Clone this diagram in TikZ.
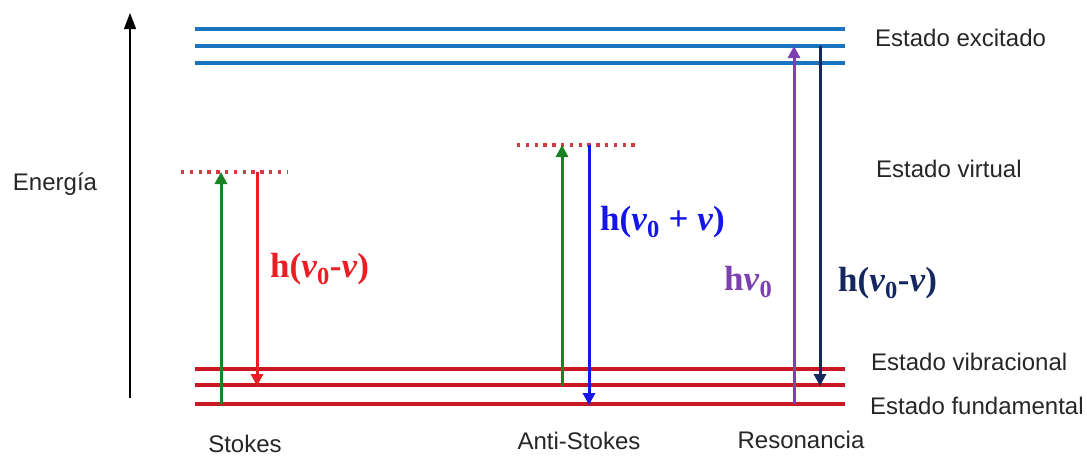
\documentclass[tikz,border=0pt]{standalone}
\usepackage{fontspec}
\setmainfont{Liberation Sans}
\newfontfamily\lblfont{Liberation Serif}
\usetikzlibrary{arrows.meta}
\definecolor{lvlblue}{RGB}{25,115,190}
\definecolor{lvlred}{RGB}{200,25,35}
\definecolor{grn}{RGB}{25,130,35}
\definecolor{redarr}{RGB}{235,30,35}
\definecolor{bluarr}{RGB}{20,20,235}
\definecolor{purp}{RGB}{125,65,175}
\definecolor{navy}{RGB}{20,40,95}
\tikzset{
  level/.style={line width=3.6pt},
  virt/.style={line width=3.4pt, lvlred!85!white, dash pattern=on 3.4pt off 5.4pt},
  trans/.style={line width=3pt, -{Triangle[width=12pt,length=12pt]}},
  txt/.style={inner sep=0pt, font=\fontsize{24}{28}\selectfont, text=black!85},
  eq/.style={inner sep=0pt, font=\lblfont\bfseries\fontsize{35}{38}\selectfont},
}
\newcommand{\nuv}{\textit{ν}}
\begin{document}
\begin{tikzpicture}[x=1pt,y=-1pt]
\useasboundingbox (0,0) rectangle (1087,458);
% energy axis
\coordinate (ebot) at (130,398);
\coordinate (etop) at (130,13);
\draw[line width=1.3pt, -{Triangle[width=12pt,length=16pt]}] (ebot) -- (etop);
\node[txt] (energia) at (55,184) {Energía};
% levels
\foreach \y/\n in {29/e1,46/e2,63/e3}{
  \draw[level, lvlblue] (195,\y) coordinate (\n L) -- (845,\y) coordinate (\n R);
}
\foreach \y/\n in {369/g3,385/g2,404/g1}{
  \draw[level, lvlred] (195,\y) coordinate (\n L) -- (845,\y) coordinate (\n R);
}
% virtual states
\draw[virt] (181,172) coordinate (vsL) -- (288,172) coordinate (vsR);
\draw[virt] (517,145) coordinate (vaL) -- (636,145) coordinate (vaR);
% Stokes
\coordinate (s1b) at (221,404); \coordinate (s1t) at (221,172);
\coordinate (s2t) at (257,172); \coordinate (s2b) at (257,386);
\draw[trans, grn] (s1b) -- (s1t);
\draw[trans, redarr] (s2t) -- (s2b);
\node[eq, text=redarr, anchor=west] (lstokes) at (270,269) {h(\nuv\textsubscript{0}-\nuv)};
% Anti-Stokes
\coordinate (a1b) at (562,386); \coordinate (a1t) at (562,145);
\coordinate (a2t) at (589,145); \coordinate (a2b) at (589,405);
\draw[trans, grn] (a1b) -- (a1t);
\draw[trans, bluarr] (a2t) -- (a2b);
\node[eq, text=bluarr, anchor=west] (lanti) at (600,222) {h(\nuv\textsubscript{0} + \nuv)};
% Resonance
\coordinate (r1b) at (794,404); \coordinate (r1t) at (794,46);
\coordinate (r2t) at (820,46); \coordinate (r2b) at (820,386);
\draw[trans, purp] (r1b) -- (r1t);
\draw[trans, navy] (r2t) -- (r2b);
\node[eq, text=purp, anchor=west] (lres) at (724,282) {h\nuv\textsubscript{0}};
\node[eq, text=navy, anchor=west] (lres2) at (838,283) {h(\nuv\textsubscript{0}-\nuv)};
% state labels
\node[txt, anchor=west] (lexc) at (875,38) {Estado excitado};
\node[txt, anchor=west] (lvir) at (876,169) {Estado virtual};
\node[txt, anchor=west] (lvib) at (871,362) {Estado vibracional};
\node[txt, anchor=west] (lfun) at (870,406) {Estado fundamental};
% bottom labels
\node[txt] (stokes) at (245,444) {Stokes};
\node[txt] (antistokes) at (579,441) {Anti-Stokes};
\node[txt] (reson) at (801,440) {Resonancia};
\end{tikzpicture}
\end{document}
